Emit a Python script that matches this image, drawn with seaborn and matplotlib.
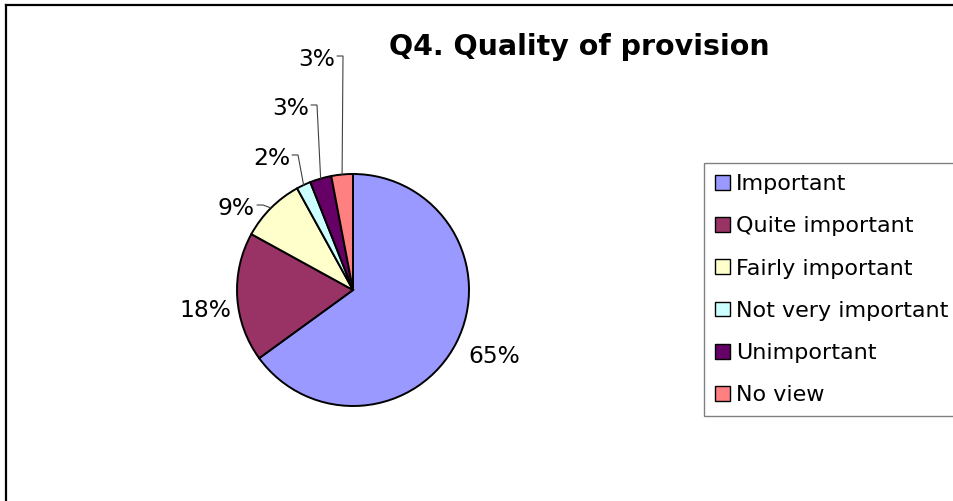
import numpy as np
import matplotlib
matplotlib.use("Agg")
import matplotlib.pyplot as plt
from matplotlib.lines import Line2D
from matplotlib.patches import Patch
import seaborn as sns

# Survey responses for question 4
title = "Q4. Quality of provision"
categories = ["Important", "Quite important", "Fairly important",
              "Not very important", "Unimportant", "No view"]
shares = [65, 18, 9, 2, 3, 3]
colors = ["#9999FF", "#993366", "#FFFFCC", "#CCFFFF", "#660066", "#FF8080"]

sns.set_theme(style="white")
plt.rcParams["font.family"] = ["DejaVu Sans"]

W, H, DPI = 954, 501, 100
fig = plt.figure(figsize=(W / DPI, H / DPI), dpi=DPI)
fig.patch.set_facecolor("white")
ax = fig.add_axes([0, 0, 1, 1])

# pie centre and radius in pixels; axes limits give 1 data unit == R pixels
CX, CY, R = 353, 290, 116


def to_data(x, y):
    return (x - CX) / R, (CY - y) / R


wedges, _ = ax.pie(shares, colors=colors, startangle=90, counterclock=False,
                   wedgeprops=dict(edgecolor="black", linewidth=1.4))
ax.set_xlim(-CX / R, (W - CX) / R)
ax.set_ylim(-(H - CY) / R, CY / R)
ax.axis("off")

# percentage labels: (x, baseline y) in pixels, alignment, leader line
label_layout = [
    (494, 363, "center", False),
    (205, 317, "center", False),
    (255, 215, "right", True),
    (290, 165, "right", True),
    (309, 115, "right", True),
    (335, 66, "right", True),
]

for w, v, (lx, ly, ha, leader) in zip(wedges, shares, label_layout):
    tx, ty = to_data(lx, ly)
    ax.text(tx, ty, f"{v}%", ha=ha, va="baseline", fontsize=16.8,
            color="black")
    if leader:
        mid = np.deg2rad((w.theta1 + w.theta2) / 2)
        ex, ey = np.cos(mid) * w.r, np.sin(mid) * w.r
        x0, yl = to_data(lx + 2, ly - 10)
        x1, _ = to_data(lx + 8, ly - 10)
        ax.plot([x0, x1, ex], [yl, yl, ey], color="#404040", lw=0.8,
                solid_joinstyle="miter", clip_on=False)

fig.text(579 / W, 1 - 55 / H, title, ha="center", va="baseline",
         fontsize=20.5, fontweight="bold", color="black")

handles = [Patch(facecolor=c, edgecolor="black", linewidth=1.0) for c in colors]
leg = fig.legend(handles, categories, loc="upper left",
                 bbox_to_anchor=(704 / W, 1 - 163 / H),
                 bbox_transform=fig.transFigure, frameon=True, fancybox=False,
                 shadow=False, framealpha=1, edgecolor="#808080",
                 fontsize=16, borderpad=0.5, borderaxespad=0,
                 handlelength=0.68, handleheight=0.65, handletextpad=0.26,
                 labelspacing=1.0)
leg.get_frame().set_linewidth(1.0)
for t in leg.get_texts():
    t.set_color("black")

# chart-area border along the top and left edges
fig.add_artist(Line2D([6 / W, 6 / W], [0, 1 - 5 / H], transform=fig.transFigure,
                      color="black", lw=1.6, solid_capstyle="projecting"))
fig.add_artist(Line2D([6 / W, 1], [1 - 5 / H, 1 - 5 / H],
                      transform=fig.transFigure, color="black", lw=1.6,
                      solid_capstyle="projecting"))

fig.savefig("out.png", dpi=DPI, facecolor="white")
